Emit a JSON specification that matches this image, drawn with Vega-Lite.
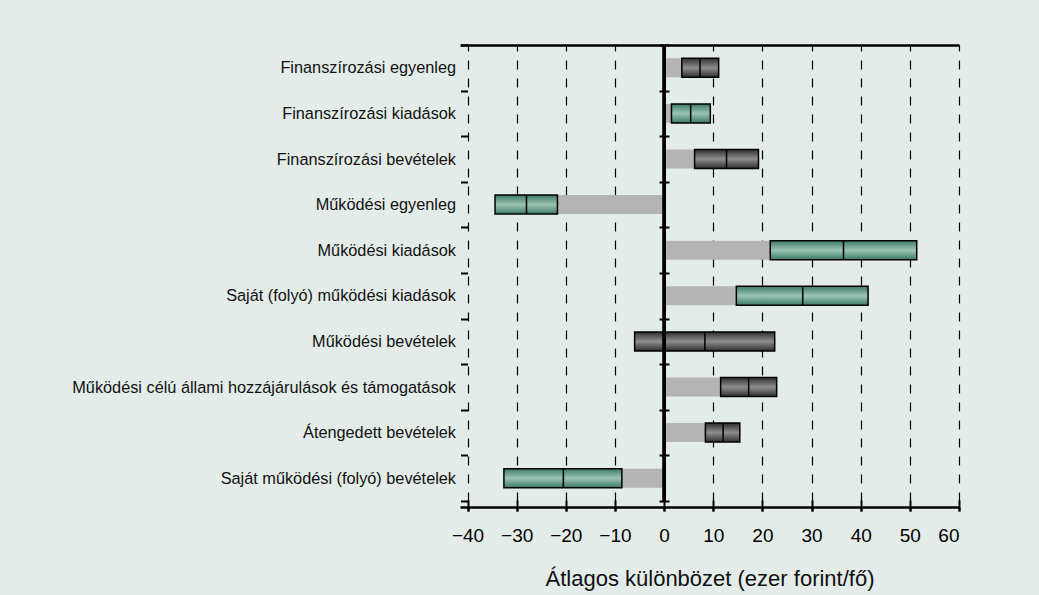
{
  "$schema": "https://vega.github.io/schema/vega-lite/v6.json",
  "autosize": "none",
  "width": 499,
  "height": 456,
  "padding": {"left": 460, "top": 45, "right": 80, "bottom": 94},
  "background": "#e4ece9",
  "config": {
    "view": {"stroke": null},
    "font": "Liberation Sans",
    "axis": {"labelFont": "Liberation Sans", "titleFont": "Liberation Sans", "labelColor": "#000", "titleColor": "#111"}
  },
  "data": {
    "values": [
      {"cat": "Finanszírozási egyenleg", "lo": 3.6, "med": 7.3, "hi": 11.1, "type": "dark", "gray": 3.6},
      {"cat": "Finanszírozási kiadások", "lo": 1.5, "med": 5.4, "hi": 9.4, "type": "green", "gray": 1.5},
      {"cat": "Finanszírozási bevételek", "lo": 6.2, "med": 12.7, "hi": 19.2, "type": "dark", "gray": 6.2},
      {"cat": "Működési egyenleg", "lo": -34.4, "med": -28.0, "hi": -21.7, "type": "green", "gray": -21.7},
      {"cat": "Működési kiadások", "lo": 21.6, "med": 36.5, "hi": 51.4, "type": "green", "gray": 21.6},
      {"cat": "Saját (folyó) működési kiadások", "lo": 14.7, "med": 28.2, "hi": 41.5, "type": "green", "gray": 14.7},
      {"cat": "Működési bevételek", "lo": -6.0, "med": 8.3, "hi": 22.5, "type": "dark", "gray": 0},
      {"cat": "Működési célú állami hozzájárulások és támogatások", "lo": 11.5, "med": 17.2, "hi": 22.9, "type": "dark", "gray": 11.5},
      {"cat": "Átengedett bevételek", "lo": 8.4, "med": 12.0, "hi": 15.4, "type": "dark", "gray": 8.4},
      {"cat": "Saját működési (folyó) bevételek", "lo": -32.6, "med": -20.5, "hi": -8.6, "type": "green", "gray": -8.6}
    ]
  },
  "resolve": {"axis": {"x": "independent", "y": "independent"}},
  "layer": [
    {
      "mark": {"type": "bar", "color": "#b4b4b4", "size": 19},
      "encoding": {
        "y": {"field": "cat", "type": "nominal", "sort": null, "title": null,
              "scale": {"paddingInner": 0, "paddingOuter": 0},
              "axis": {"orient": "left", "offset": -7.5, "domain": false, "tickBand": "extent", "tickSize": 7, "tickWidth": 2, "tickColor": "#000",
                       "labelFontSize": 16.3, "labelPadding": 5, "labelLimit": 0, "labelColor": "#111"}},
        "x": {"field": "gray", "type": "quantitative",
              "scale": {"domain": [-41.53, 60], "nice": false, "zero": false},
              "title": "Átlagos különbözet (ezer forint/fő)",
              "axis": {"orient": "bottom", "offset": 6, "values": [-40, -30, -20, -10, 0, 10, 20, 30, 40, 50, 60],
                       "grid": true, "gridColor": "#000", "gridWidth": 1.2, "gridDash": [9, 9], "gridOpacity": 1,
                       "domainColor": "#000", "domainWidth": 2.5, "tickColor": "#000", "tickWidth": 2, "tickSize": 4,
                       "labelFontSize": 19, "labelPadding": 15.5, "titleFontSize": 22, "titleFontWeight": "normal", "titlePadding": 23}},
        "x2": {"datum": 0}
      }
    },
    {
      "transform": [{"filter": "datum.type === 'green'"}],
      "mark": {"type": "bar", "size": 19, "stroke": "#000", "strokeWidth": 1.5,
               "color": {"gradient": "linear", "x1": 0, "y1": 0, "x2": 0, "y2": 1,
                         "stops": [{"offset": 0, "color": "#3c7a65"}, {"offset": 0.5, "color": "#9cc4b4"}, {"offset": 1, "color": "#3c7a65"}]}},
      "encoding": {
        "y": {"field": "cat", "type": "nominal", "sort": null, "axis": null},
        "x": {"field": "lo", "type": "quantitative",
              "axis": {"orient": "top", "domain": true, "domainColor": "#000", "domainWidth": 2.5, "ticks": false, "labels": false, "grid": false, "title": null}},
        "x2": {"field": "hi"}
      }
    },
    {
      "transform": [{"filter": "datum.type === 'dark'"}],
      "mark": {"type": "bar", "size": 19, "stroke": "#000", "strokeWidth": 1.5,
               "color": {"gradient": "linear", "x1": 0, "y1": 0, "x2": 0, "y2": 1,
                         "stops": [{"offset": 0, "color": "#2e2e2e"}, {"offset": 0.5, "color": "#8e8e8e"}, {"offset": 1, "color": "#2e2e2e"}]}},
      "encoding": {
        "y": {"field": "cat", "type": "nominal", "sort": null, "axis": null},
        "x": {"field": "lo", "type": "quantitative",
              "axis": {"orient": "bottom", "offset": -1, "values": [-40, -30, -20, -10, 0, 10, 20, 30, 40, 50, 60],
                       "domain": false, "labels": false, "grid": false, "title": null,
                       "tickColor": "#000", "tickWidth": 2, "tickSize": 11}},
        "x2": {"field": "hi"}
      }
    },
    {
      "mark": {"type": "tick", "color": "#000", "size": 19, "thickness": 1.5, "opacity": 1},
      "encoding": {
        "y": {"field": "cat", "type": "nominal", "sort": null, "title": null,
              "axis": {"orient": "right", "offset": -300, "domain": false, "labels": false, "tickBand": "extent", "tickSize": 10, "tickWidth": 2, "tickColor": "#000"}},
        "x": {"field": "med", "type": "quantitative", "axis": null}
      }
    },
    {
      "mark": {"type": "rule", "color": "#000", "strokeWidth": 2.5},
      "encoding": {
        "x": {"datum": 0, "type": "quantitative", "axis": null}
      }
    }
  ]
}
